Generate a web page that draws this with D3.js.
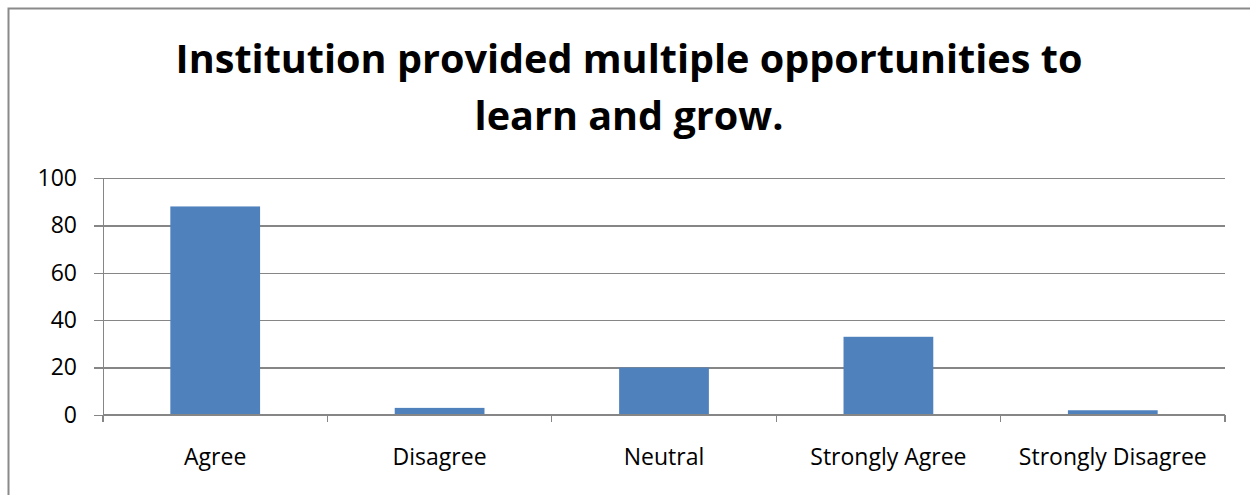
<!DOCTYPE html>
<html>
<head>
<meta charset="utf-8">
<title>Institution provided multiple opportunities</title>
<style>
  body { margin: 0; background: #fff; }
  .grid line { stroke: #868686; stroke-width: 1.3; shape-rendering: crispEdges; }
  .axis path, .axis line { stroke: #868686; stroke-width: 1.3; fill: none; shape-rendering: crispEdges; }
  .axis text { font-family: "Open Sans", sans-serif; font-size: 23px; fill: #000; }
  .title { font-family: "Open Sans", sans-serif; font-weight: bold; font-size: 39.6px; fill: #000; }
</style>
</head>
<body>
<svg width="1250" height="495"></svg>
<script src="https://cdn.jsdelivr.net/npm/d3@7"></script>
<script>
// data
var categories = ["Agree", "Disagree", "Neutral", "Strongly Agree", "Strongly Disagree"];
var values = [88, 3, 20, 33, 2];
var yTicks = [0, 20, 40, 60, 80, 100];
var titleLines = ["Institution provided multiple opportunities to", "learn and grow."];

var svg = d3.select("svg"),
    margin = {top: 178, left: 103, right: 25, bottom: 80},
    width = 1250 - margin.left - margin.right,
    height = 415 - margin.top;

// outer chart frame
svg.append("rect")
    .attr("x", 8.5).attr("y", 8.5)
    .attr("width", 1260).attr("height", 520)
    .attr("fill", "none")
    .attr("stroke", "#8a8a8a")
    .attr("stroke-width", 2);

// title
var title = svg.append("text")
    .attr("class", "title")
    .attr("text-anchor", "middle");
title.selectAll("tspan")
    .data(titleLines)
  .enter().append("tspan")
    .attr("x", 629)
    .attr("y", function(d, i) { return 73 + i * 57; })
    .text(function(d) { return d; });

var g = svg.append("g").attr("transform", "translate(" + margin.left + "," + margin.top + ")");

var x = d3.scaleBand().domain(categories).range([0, width]).paddingInner(0.6).paddingOuter(0.3);
var y = d3.scaleLinear().domain([0, 100]).range([height, 0]);

// gridlines
g.append("g")
    .attr("class", "grid")
    .call(d3.axisLeft(y).tickValues(yTicks).tickSize(-width).tickFormat(""))
    .call(function(s) { s.select(".domain").remove(); });

// bars
g.selectAll(".bar")
    .data(values)
  .enter().append("rect")
    .attr("class", "bar")
    .attr("x", function(d, i) { return x(categories[i]); })
    .attr("y", function(d) { return y(d); })
    .attr("width", x.bandwidth())
    .attr("height", function(d) { return height - y(d); })
    .attr("fill", "#4f81bd");

// y axis
var yAxis = g.append("g")
    .attr("class", "axis")
    .call(d3.axisLeft(y).tickValues(yTicks).tickSize(9).tickSizeOuter(0).tickPadding(17));

// x axis: ticks on category boundaries
var step = x.step();
var xAxis = g.append("g")
    .attr("class", "axis")
    .attr("transform", "translate(0," + height + ")");
xAxis.append("line").attr("x1", 0).attr("x2", width).attr("y1", 0).attr("y2", 0);
xAxis.selectAll(".tk")
    .data(d3.range(categories.length + 1))
  .enter().append("line")
    .attr("x1", function(i) { return i * step; })
    .attr("x2", function(i) { return i * step; })
    .attr("y1", 0).attr("y2", 7);
xAxis.selectAll(".lbl")
    .data(categories)
  .enter().append("text")
    .attr("x", function(d) { return x(d) + x.bandwidth() / 2; })
    .attr("y", 50)
    .attr("text-anchor", "middle")
    .text(function(d) { return d; });
</script>
</body>
</html>
